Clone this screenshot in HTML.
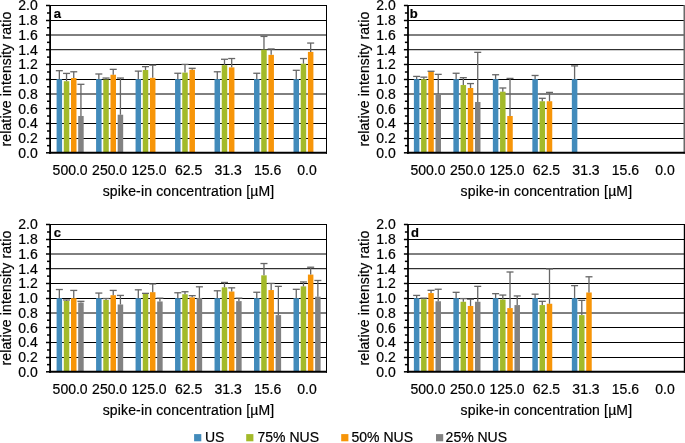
<!DOCTYPE html>
<html><head><meta charset="utf-8"><style>
html,body{margin:0;padding:0;background:#fff;}
body{width:685px;height:443px;overflow:hidden;}
svg{display:block;will-change:transform;}
text{font-family:"Liberation Sans", sans-serif;stroke:#000;stroke-width:0.2px;}
</style></head><body>
<svg width="685" height="443" viewBox="0 0 685 443" font-family='"Liberation Sans", sans-serif' font-size="14" fill="#000">
<rect width="685" height="443" fill="#fff"/>
<g transform="translate(0,0)">
<line x1="50.1" x2="326.5" y1="138.50" y2="138.50" stroke="#000" stroke-width="1"/>
<line x1="50.1" x2="326.5" y1="123.50" y2="123.50" stroke="#000" stroke-width="1"/>
<line x1="50.1" x2="326.5" y1="108.50" y2="108.50" stroke="#000" stroke-width="1"/>
<line x1="50.1" x2="326.5" y1="94.00" y2="94.00" stroke="#000" stroke-width="1"/>
<line x1="50.1" x2="326.5" y1="79.50" y2="79.50" stroke="#000" stroke-width="1"/>
<line x1="50.1" x2="326.5" y1="64.50" y2="64.50" stroke="#000" stroke-width="1"/>
<line x1="50.1" x2="326.5" y1="49.70" y2="49.70" stroke="#000" stroke-width="1"/>
<line x1="50.1" x2="326.5" y1="35.00" y2="35.00" stroke="#000" stroke-width="1"/>
<line x1="50.1" x2="326.5" y1="20.50" y2="20.50" stroke="#000" stroke-width="1"/>
<line x1="50.1" x2="326.5" y1="5.50" y2="5.50" stroke="#000" stroke-width="1"/>
<line x1="326.5" x2="326.5" y1="5.0" y2="153.8" stroke="#000" stroke-width="1.0"/>
<rect x="56.59" y="79.15" width="5.5" height="73.65" fill="#428bbb"/>
<rect x="63.79" y="81.21" width="5.5" height="71.59" fill="#a3ba2a"/>
<rect x="70.99" y="78.05" width="5.5" height="74.75" fill="#f79508"/>
<rect x="78.19" y="115.98" width="5.5" height="36.83" fill="#828282"/>
<rect x="96.08" y="79.15" width="5.5" height="73.65" fill="#428bbb"/>
<rect x="103.28" y="79.52" width="5.5" height="73.28" fill="#a3ba2a"/>
<rect x="110.48" y="74.73" width="5.5" height="78.07" fill="#f79508"/>
<rect x="117.68" y="114.72" width="5.5" height="38.08" fill="#828282"/>
<rect x="135.56" y="79.15" width="5.5" height="73.65" fill="#428bbb"/>
<rect x="142.76" y="70.02" width="5.5" height="82.78" fill="#a3ba2a"/>
<rect x="149.96" y="77.82" width="5.5" height="74.98" fill="#f79508"/>
<rect x="175.05" y="79.15" width="5.5" height="73.65" fill="#428bbb"/>
<rect x="182.25" y="72.60" width="5.5" height="80.20" fill="#a3ba2a"/>
<rect x="189.45" y="69.72" width="5.5" height="83.08" fill="#f79508"/>
<rect x="214.54" y="79.15" width="5.5" height="73.65" fill="#428bbb"/>
<rect x="221.74" y="65.16" width="5.5" height="87.64" fill="#a3ba2a"/>
<rect x="228.94" y="67.37" width="5.5" height="85.43" fill="#f79508"/>
<rect x="254.02" y="79.15" width="5.5" height="73.65" fill="#428bbb"/>
<rect x="261.22" y="49.69" width="5.5" height="103.11" fill="#a3ba2a"/>
<rect x="268.42" y="54.85" width="5.5" height="97.95" fill="#f79508"/>
<rect x="293.51" y="79.15" width="5.5" height="73.65" fill="#428bbb"/>
<rect x="300.71" y="63.68" width="5.5" height="89.12" fill="#a3ba2a"/>
<rect x="307.91" y="51.90" width="5.5" height="100.90" fill="#f79508"/>
<line x1="59.34" x2="59.34" y1="79.15" y2="70.68" stroke="#666666" stroke-width="1.3"/>
<line x1="55.84" x2="62.84" y1="70.68" y2="70.68" stroke="#666666" stroke-width="1.3"/>
<line x1="66.54" x2="66.54" y1="81.21" y2="73.41" stroke="#666666" stroke-width="1.3"/>
<line x1="63.04" x2="70.04" y1="73.41" y2="73.41" stroke="#666666" stroke-width="1.3"/>
<line x1="73.74" x2="73.74" y1="78.05" y2="71.78" stroke="#666666" stroke-width="1.3"/>
<line x1="70.24" x2="77.24" y1="71.78" y2="71.78" stroke="#666666" stroke-width="1.3"/>
<line x1="80.94" x2="80.94" y1="115.98" y2="84.31" stroke="#666666" stroke-width="1.3"/>
<line x1="77.44" x2="84.44" y1="84.31" y2="84.31" stroke="#666666" stroke-width="1.3"/>
<line x1="98.83" x2="98.83" y1="79.15" y2="73.99" stroke="#666666" stroke-width="1.3"/>
<line x1="95.33" x2="102.33" y1="73.99" y2="73.99" stroke="#666666" stroke-width="1.3"/>
<line x1="106.03" x2="106.03" y1="79.52" y2="78.05" stroke="#666666" stroke-width="1.3"/>
<line x1="102.53" x2="109.53" y1="78.05" y2="78.05" stroke="#666666" stroke-width="1.3"/>
<line x1="113.23" x2="113.23" y1="74.73" y2="69.35" stroke="#666666" stroke-width="1.3"/>
<line x1="109.73" x2="116.73" y1="69.35" y2="69.35" stroke="#666666" stroke-width="1.3"/>
<line x1="120.43" x2="120.43" y1="114.72" y2="78.05" stroke="#666666" stroke-width="1.3"/>
<line x1="116.93" x2="123.93" y1="78.05" y2="78.05" stroke="#666666" stroke-width="1.3"/>
<line x1="138.31" x2="138.31" y1="79.15" y2="71.12" stroke="#666666" stroke-width="1.3"/>
<line x1="134.81" x2="141.81" y1="71.12" y2="71.12" stroke="#666666" stroke-width="1.3"/>
<line x1="145.51" x2="145.51" y1="70.02" y2="66.63" stroke="#666666" stroke-width="1.3"/>
<line x1="142.01" x2="149.01" y1="66.63" y2="66.63" stroke="#666666" stroke-width="1.3"/>
<line x1="152.71" x2="152.71" y1="77.82" y2="65.16" stroke="#666666" stroke-width="1.3"/>
<line x1="149.21" x2="156.21" y1="65.16" y2="65.16" stroke="#666666" stroke-width="1.3"/>
<line x1="177.80" x2="177.80" y1="79.15" y2="73.26" stroke="#666666" stroke-width="1.3"/>
<line x1="174.30" x2="181.30" y1="73.26" y2="73.26" stroke="#666666" stroke-width="1.3"/>
<line x1="185.00" x2="185.00" y1="72.60" y2="64.42" stroke="#666666" stroke-width="1.3"/>
<line x1="181.50" x2="188.50" y1="64.42" y2="64.42" stroke="#666666" stroke-width="1.3"/>
<line x1="192.20" x2="192.20" y1="69.72" y2="68.32" stroke="#666666" stroke-width="1.3"/>
<line x1="188.70" x2="195.70" y1="68.32" y2="68.32" stroke="#666666" stroke-width="1.3"/>
<line x1="217.29" x2="217.29" y1="79.15" y2="71.78" stroke="#666666" stroke-width="1.3"/>
<line x1="213.79" x2="220.79" y1="71.78" y2="71.78" stroke="#666666" stroke-width="1.3"/>
<line x1="224.49" x2="224.49" y1="65.16" y2="59.26" stroke="#666666" stroke-width="1.3"/>
<line x1="220.99" x2="227.99" y1="59.26" y2="59.26" stroke="#666666" stroke-width="1.3"/>
<line x1="231.69" x2="231.69" y1="67.37" y2="58.53" stroke="#666666" stroke-width="1.3"/>
<line x1="228.19" x2="235.19" y1="58.53" y2="58.53" stroke="#666666" stroke-width="1.3"/>
<line x1="256.77" x2="256.77" y1="79.15" y2="73.26" stroke="#666666" stroke-width="1.3"/>
<line x1="253.27" x2="260.27" y1="73.26" y2="73.26" stroke="#666666" stroke-width="1.3"/>
<line x1="263.97" x2="263.97" y1="49.69" y2="36.43" stroke="#666666" stroke-width="1.3"/>
<line x1="260.47" x2="267.47" y1="36.43" y2="36.43" stroke="#666666" stroke-width="1.3"/>
<line x1="271.17" x2="271.17" y1="54.85" y2="48.95" stroke="#666666" stroke-width="1.3"/>
<line x1="267.67" x2="274.67" y1="48.95" y2="48.95" stroke="#666666" stroke-width="1.3"/>
<line x1="296.26" x2="296.26" y1="79.15" y2="70.31" stroke="#666666" stroke-width="1.3"/>
<line x1="292.76" x2="299.76" y1="70.31" y2="70.31" stroke="#666666" stroke-width="1.3"/>
<line x1="303.46" x2="303.46" y1="63.68" y2="58.53" stroke="#666666" stroke-width="1.3"/>
<line x1="299.96" x2="306.96" y1="58.53" y2="58.53" stroke="#666666" stroke-width="1.3"/>
<line x1="310.66" x2="310.66" y1="51.90" y2="43.06" stroke="#666666" stroke-width="1.3"/>
<line x1="307.16" x2="314.16" y1="43.06" y2="43.06" stroke="#666666" stroke-width="1.3"/>
<line x1="50.1" x2="50.1" y1="4.9" y2="153.8" stroke="#000" stroke-width="1.8"/>
<line x1="49.2" x2="327.0" y1="152.8" y2="152.8" stroke="#000" stroke-width="2"/>
<line x1="46" x2="50.1" y1="152.80" y2="152.80" stroke="#000" stroke-width="1.5"/>
<line x1="47" x2="50.1" y1="145.65" y2="145.65" stroke="#000" stroke-width="1.5"/>
<line x1="46" x2="50.1" y1="138.50" y2="138.50" stroke="#000" stroke-width="1.5"/>
<line x1="47" x2="50.1" y1="131.00" y2="131.00" stroke="#000" stroke-width="1.5"/>
<line x1="46" x2="50.1" y1="123.50" y2="123.50" stroke="#000" stroke-width="1.5"/>
<line x1="47" x2="50.1" y1="116.00" y2="116.00" stroke="#000" stroke-width="1.5"/>
<line x1="46" x2="50.1" y1="108.50" y2="108.50" stroke="#000" stroke-width="1.5"/>
<line x1="47" x2="50.1" y1="101.25" y2="101.25" stroke="#000" stroke-width="1.5"/>
<line x1="46" x2="50.1" y1="94.00" y2="94.00" stroke="#000" stroke-width="1.5"/>
<line x1="47" x2="50.1" y1="86.75" y2="86.75" stroke="#000" stroke-width="1.5"/>
<line x1="46" x2="50.1" y1="79.50" y2="79.50" stroke="#000" stroke-width="1.5"/>
<line x1="47" x2="50.1" y1="72.00" y2="72.00" stroke="#000" stroke-width="1.5"/>
<line x1="46" x2="50.1" y1="64.50" y2="64.50" stroke="#000" stroke-width="1.5"/>
<line x1="47" x2="50.1" y1="57.10" y2="57.10" stroke="#000" stroke-width="1.5"/>
<line x1="46" x2="50.1" y1="49.70" y2="49.70" stroke="#000" stroke-width="1.5"/>
<line x1="47" x2="50.1" y1="42.35" y2="42.35" stroke="#000" stroke-width="1.5"/>
<line x1="46" x2="50.1" y1="35.00" y2="35.00" stroke="#000" stroke-width="1.5"/>
<line x1="47" x2="50.1" y1="27.75" y2="27.75" stroke="#000" stroke-width="1.5"/>
<line x1="46" x2="50.1" y1="20.50" y2="20.50" stroke="#000" stroke-width="1.5"/>
<line x1="47" x2="50.1" y1="13.00" y2="13.00" stroke="#000" stroke-width="1.5"/>
<line x1="46" x2="50.1" y1="5.50" y2="5.50" stroke="#000" stroke-width="1.5"/>
<text x="37.8" y="157.70" text-anchor="end">0.0</text>
<text x="37.8" y="142.97" text-anchor="end">0.2</text>
<text x="37.8" y="128.24" text-anchor="end">0.4</text>
<text x="37.8" y="113.51" text-anchor="end">0.6</text>
<text x="37.8" y="98.78" text-anchor="end">0.8</text>
<text x="37.8" y="84.05" text-anchor="end">1.0</text>
<text x="37.8" y="69.32" text-anchor="end">1.2</text>
<text x="37.8" y="54.59" text-anchor="end">1.4</text>
<text x="37.8" y="39.86" text-anchor="end">1.6</text>
<text x="37.8" y="25.13" text-anchor="end">1.8</text>
<text x="37.8" y="10.40" text-anchor="end">2.0</text>
<text x="70.14" y="174.6" text-anchor="middle">500.0</text>
<text x="109.63" y="174.6" text-anchor="middle">250.0</text>
<text x="149.11" y="174.6" text-anchor="middle">125.0</text>
<text x="188.60" y="174.6" text-anchor="middle">62.5</text>
<text x="228.09" y="174.6" text-anchor="middle">31.3</text>
<text x="267.57" y="174.6" text-anchor="middle">15.6</text>
<text x="307.06" y="174.6" text-anchor="middle">0.0</text>
<text x="188.5" y="196.0" text-anchor="middle" letter-spacing="0.15">spike-in concentration [µM]</text>
<text transform="translate(10.7,79.1) rotate(-90)" x="0" y="0" text-anchor="middle" letter-spacing="0.14">relative intensity ratio</text>
<text x="53.8" y="17.9" font-weight="bold" font-size="13">a</text>
</g>
<g transform="translate(357.9,0)">
<line x1="50.1" x2="326.5" y1="138.50" y2="138.50" stroke="#000" stroke-width="1"/>
<line x1="50.1" x2="326.5" y1="123.50" y2="123.50" stroke="#000" stroke-width="1"/>
<line x1="50.1" x2="326.5" y1="108.50" y2="108.50" stroke="#000" stroke-width="1"/>
<line x1="50.1" x2="326.5" y1="94.00" y2="94.00" stroke="#000" stroke-width="1"/>
<line x1="50.1" x2="326.5" y1="79.50" y2="79.50" stroke="#000" stroke-width="1"/>
<line x1="50.1" x2="326.5" y1="64.50" y2="64.50" stroke="#000" stroke-width="1"/>
<line x1="50.1" x2="326.5" y1="49.70" y2="49.70" stroke="#000" stroke-width="1"/>
<line x1="50.1" x2="326.5" y1="35.00" y2="35.00" stroke="#000" stroke-width="1"/>
<line x1="50.1" x2="326.5" y1="20.50" y2="20.50" stroke="#000" stroke-width="1"/>
<line x1="50.1" x2="326.5" y1="5.50" y2="5.50" stroke="#000" stroke-width="1"/>
<line x1="326.6" x2="326.6" y1="5.0" y2="153.8" stroke="#6a6a6a" stroke-width="2.0"/>
<rect x="55.99" y="79.15" width="5.5" height="73.65" fill="#428bbb"/>
<rect x="63.19" y="79.15" width="5.5" height="73.65" fill="#a3ba2a"/>
<rect x="70.39" y="71.42" width="5.5" height="81.38" fill="#f79508"/>
<rect x="77.59" y="94.10" width="5.5" height="58.70" fill="#828282"/>
<rect x="95.48" y="79.15" width="5.5" height="73.65" fill="#428bbb"/>
<rect x="102.68" y="85.04" width="5.5" height="67.76" fill="#a3ba2a"/>
<rect x="109.88" y="87.99" width="5.5" height="64.81" fill="#f79508"/>
<rect x="117.08" y="101.98" width="5.5" height="50.82" fill="#828282"/>
<rect x="134.96" y="79.15" width="5.5" height="73.65" fill="#428bbb"/>
<rect x="142.16" y="91.67" width="5.5" height="61.13" fill="#a3ba2a"/>
<rect x="149.36" y="115.98" width="5.5" height="36.83" fill="#f79508"/>
<rect x="174.45" y="79.15" width="5.5" height="73.65" fill="#428bbb"/>
<rect x="181.65" y="101.25" width="5.5" height="51.56" fill="#a3ba2a"/>
<rect x="188.85" y="101.25" width="5.5" height="51.56" fill="#f79508"/>
<rect x="213.94" y="79.15" width="5.5" height="73.65" fill="#428bbb"/>
<line x1="58.74" x2="58.74" y1="79.15" y2="76.42" stroke="#666666" stroke-width="1.3"/>
<line x1="55.24" x2="62.24" y1="76.42" y2="76.42" stroke="#666666" stroke-width="1.3"/>
<line x1="65.94" x2="65.94" y1="79.15" y2="77.16" stroke="#666666" stroke-width="1.3"/>
<line x1="62.44" x2="69.44" y1="77.16" y2="77.16" stroke="#666666" stroke-width="1.3"/>
<line x1="73.14" x2="73.14" y1="71.42" y2="71.27" stroke="#666666" stroke-width="1.3"/>
<line x1="69.64" x2="76.64" y1="71.27" y2="71.27" stroke="#666666" stroke-width="1.3"/>
<line x1="80.34" x2="80.34" y1="94.10" y2="74.36" stroke="#666666" stroke-width="1.3"/>
<line x1="76.84" x2="83.84" y1="74.36" y2="74.36" stroke="#666666" stroke-width="1.3"/>
<line x1="98.23" x2="98.23" y1="79.15" y2="73.26" stroke="#666666" stroke-width="1.3"/>
<line x1="94.73" x2="101.73" y1="73.26" y2="73.26" stroke="#666666" stroke-width="1.3"/>
<line x1="105.43" x2="105.43" y1="85.04" y2="77.68" stroke="#666666" stroke-width="1.3"/>
<line x1="101.93" x2="108.93" y1="77.68" y2="77.68" stroke="#666666" stroke-width="1.3"/>
<line x1="112.63" x2="112.63" y1="87.99" y2="83.57" stroke="#666666" stroke-width="1.3"/>
<line x1="109.13" x2="116.13" y1="83.57" y2="83.57" stroke="#666666" stroke-width="1.3"/>
<line x1="119.83" x2="119.83" y1="101.98" y2="52.34" stroke="#666666" stroke-width="1.3"/>
<line x1="116.33" x2="123.33" y1="52.34" y2="52.34" stroke="#666666" stroke-width="1.3"/>
<line x1="137.71" x2="137.71" y1="79.15" y2="74.73" stroke="#666666" stroke-width="1.3"/>
<line x1="134.21" x2="141.21" y1="74.73" y2="74.73" stroke="#666666" stroke-width="1.3"/>
<line x1="144.91" x2="144.91" y1="91.67" y2="87.99" stroke="#666666" stroke-width="1.3"/>
<line x1="141.41" x2="148.41" y1="87.99" y2="87.99" stroke="#666666" stroke-width="1.3"/>
<line x1="152.11" x2="152.11" y1="115.98" y2="78.41" stroke="#666666" stroke-width="1.3"/>
<line x1="148.61" x2="155.61" y1="78.41" y2="78.41" stroke="#666666" stroke-width="1.3"/>
<line x1="177.20" x2="177.20" y1="79.15" y2="75.47" stroke="#666666" stroke-width="1.3"/>
<line x1="173.70" x2="180.70" y1="75.47" y2="75.47" stroke="#666666" stroke-width="1.3"/>
<line x1="184.40" x2="184.40" y1="101.25" y2="98.30" stroke="#666666" stroke-width="1.3"/>
<line x1="180.90" x2="187.90" y1="98.30" y2="98.30" stroke="#666666" stroke-width="1.3"/>
<line x1="191.60" x2="191.60" y1="101.25" y2="92.41" stroke="#666666" stroke-width="1.3"/>
<line x1="188.10" x2="195.10" y1="92.41" y2="92.41" stroke="#666666" stroke-width="1.3"/>
<line x1="216.69" x2="216.69" y1="79.15" y2="65.89" stroke="#666666" stroke-width="1.3"/>
<line x1="213.19" x2="220.19" y1="65.89" y2="65.89" stroke="#666666" stroke-width="1.3"/>
<line x1="50.1" x2="50.1" y1="4.9" y2="153.8" stroke="#000" stroke-width="1.8"/>
<line x1="49.2" x2="327.0" y1="152.8" y2="152.8" stroke="#000" stroke-width="2"/>
<line x1="46" x2="50.1" y1="152.80" y2="152.80" stroke="#000" stroke-width="1.5"/>
<line x1="47" x2="50.1" y1="145.65" y2="145.65" stroke="#000" stroke-width="1.5"/>
<line x1="46" x2="50.1" y1="138.50" y2="138.50" stroke="#000" stroke-width="1.5"/>
<line x1="47" x2="50.1" y1="131.00" y2="131.00" stroke="#000" stroke-width="1.5"/>
<line x1="46" x2="50.1" y1="123.50" y2="123.50" stroke="#000" stroke-width="1.5"/>
<line x1="47" x2="50.1" y1="116.00" y2="116.00" stroke="#000" stroke-width="1.5"/>
<line x1="46" x2="50.1" y1="108.50" y2="108.50" stroke="#000" stroke-width="1.5"/>
<line x1="47" x2="50.1" y1="101.25" y2="101.25" stroke="#000" stroke-width="1.5"/>
<line x1="46" x2="50.1" y1="94.00" y2="94.00" stroke="#000" stroke-width="1.5"/>
<line x1="47" x2="50.1" y1="86.75" y2="86.75" stroke="#000" stroke-width="1.5"/>
<line x1="46" x2="50.1" y1="79.50" y2="79.50" stroke="#000" stroke-width="1.5"/>
<line x1="47" x2="50.1" y1="72.00" y2="72.00" stroke="#000" stroke-width="1.5"/>
<line x1="46" x2="50.1" y1="64.50" y2="64.50" stroke="#000" stroke-width="1.5"/>
<line x1="47" x2="50.1" y1="57.10" y2="57.10" stroke="#000" stroke-width="1.5"/>
<line x1="46" x2="50.1" y1="49.70" y2="49.70" stroke="#000" stroke-width="1.5"/>
<line x1="47" x2="50.1" y1="42.35" y2="42.35" stroke="#000" stroke-width="1.5"/>
<line x1="46" x2="50.1" y1="35.00" y2="35.00" stroke="#000" stroke-width="1.5"/>
<line x1="47" x2="50.1" y1="27.75" y2="27.75" stroke="#000" stroke-width="1.5"/>
<line x1="46" x2="50.1" y1="20.50" y2="20.50" stroke="#000" stroke-width="1.5"/>
<line x1="47" x2="50.1" y1="13.00" y2="13.00" stroke="#000" stroke-width="1.5"/>
<line x1="46" x2="50.1" y1="5.50" y2="5.50" stroke="#000" stroke-width="1.5"/>
<text x="37.8" y="157.70" text-anchor="end">0.0</text>
<text x="37.8" y="142.97" text-anchor="end">0.2</text>
<text x="37.8" y="128.24" text-anchor="end">0.4</text>
<text x="37.8" y="113.51" text-anchor="end">0.6</text>
<text x="37.8" y="98.78" text-anchor="end">0.8</text>
<text x="37.8" y="84.05" text-anchor="end">1.0</text>
<text x="37.8" y="69.32" text-anchor="end">1.2</text>
<text x="37.8" y="54.59" text-anchor="end">1.4</text>
<text x="37.8" y="39.86" text-anchor="end">1.6</text>
<text x="37.8" y="25.13" text-anchor="end">1.8</text>
<text x="37.8" y="10.40" text-anchor="end">2.0</text>
<text x="70.14" y="174.6" text-anchor="middle">500.0</text>
<text x="109.63" y="174.6" text-anchor="middle">250.0</text>
<text x="149.11" y="174.6" text-anchor="middle">125.0</text>
<text x="188.60" y="174.6" text-anchor="middle">62.5</text>
<text x="228.09" y="174.6" text-anchor="middle">31.3</text>
<text x="267.57" y="174.6" text-anchor="middle">15.6</text>
<text x="307.06" y="174.6" text-anchor="middle">0.0</text>
<text x="188.5" y="196.0" text-anchor="middle" letter-spacing="0.15">spike-in concentration [µM]</text>
<text transform="translate(10.7,79.1) rotate(-90)" x="0" y="0" text-anchor="middle" letter-spacing="0.14">relative intensity ratio</text>
<text x="51.9" y="17.9" font-weight="bold" font-size="13">b</text>
</g>
<g transform="translate(0,219)">
<line x1="50.1" x2="326.5" y1="138.50" y2="138.50" stroke="#000" stroke-width="1"/>
<line x1="50.1" x2="326.5" y1="123.50" y2="123.50" stroke="#000" stroke-width="1"/>
<line x1="50.1" x2="326.5" y1="108.50" y2="108.50" stroke="#000" stroke-width="1"/>
<line x1="50.1" x2="326.5" y1="94.00" y2="94.00" stroke="#000" stroke-width="1"/>
<line x1="50.1" x2="326.5" y1="79.50" y2="79.50" stroke="#000" stroke-width="1"/>
<line x1="50.1" x2="326.5" y1="64.50" y2="64.50" stroke="#000" stroke-width="1"/>
<line x1="50.1" x2="326.5" y1="49.70" y2="49.70" stroke="#000" stroke-width="1"/>
<line x1="50.1" x2="326.5" y1="35.00" y2="35.00" stroke="#000" stroke-width="1"/>
<line x1="50.1" x2="326.5" y1="20.50" y2="20.50" stroke="#000" stroke-width="1"/>
<line x1="50.1" x2="326.5" y1="5.50" y2="5.50" stroke="#000" stroke-width="1"/>
<line x1="326.5" x2="326.5" y1="5.0" y2="153.8" stroke="#000" stroke-width="1.0"/>
<rect x="56.59" y="79.15" width="5.5" height="73.65" fill="#428bbb"/>
<rect x="63.79" y="81.95" width="5.5" height="70.85" fill="#a3ba2a"/>
<rect x="70.99" y="79.15" width="5.5" height="73.65" fill="#f79508"/>
<rect x="78.19" y="83.57" width="5.5" height="69.23" fill="#828282"/>
<rect x="96.08" y="79.15" width="5.5" height="73.65" fill="#428bbb"/>
<rect x="103.28" y="80.99" width="5.5" height="71.81" fill="#a3ba2a"/>
<rect x="110.48" y="76.20" width="5.5" height="76.60" fill="#f79508"/>
<rect x="117.68" y="85.48" width="5.5" height="67.32" fill="#828282"/>
<rect x="135.56" y="79.15" width="5.5" height="73.65" fill="#428bbb"/>
<rect x="142.76" y="74.88" width="5.5" height="77.92" fill="#a3ba2a"/>
<rect x="149.96" y="73.18" width="5.5" height="79.62" fill="#f79508"/>
<rect x="157.16" y="82.46" width="5.5" height="70.34" fill="#828282"/>
<rect x="175.05" y="79.15" width="5.5" height="73.65" fill="#428bbb"/>
<rect x="182.25" y="75.25" width="5.5" height="77.55" fill="#a3ba2a"/>
<rect x="189.45" y="78.34" width="5.5" height="74.46" fill="#f79508"/>
<rect x="196.65" y="78.93" width="5.5" height="73.87" fill="#828282"/>
<rect x="214.54" y="79.15" width="5.5" height="73.65" fill="#428bbb"/>
<rect x="221.74" y="68.32" width="5.5" height="84.48" fill="#a3ba2a"/>
<rect x="228.94" y="72.52" width="5.5" height="80.28" fill="#f79508"/>
<rect x="236.14" y="82.10" width="5.5" height="70.70" fill="#828282"/>
<rect x="254.02" y="79.15" width="5.5" height="73.65" fill="#428bbb"/>
<rect x="261.22" y="56.32" width="5.5" height="96.48" fill="#a3ba2a"/>
<rect x="268.42" y="71.05" width="5.5" height="81.75" fill="#f79508"/>
<rect x="275.62" y="96.09" width="5.5" height="56.71" fill="#828282"/>
<rect x="293.51" y="79.15" width="5.5" height="73.65" fill="#428bbb"/>
<rect x="300.71" y="67.37" width="5.5" height="85.43" fill="#a3ba2a"/>
<rect x="307.91" y="55.58" width="5.5" height="97.22" fill="#f79508"/>
<rect x="315.11" y="77.68" width="5.5" height="75.12" fill="#828282"/>
<line x1="59.34" x2="59.34" y1="79.15" y2="70.53" stroke="#666666" stroke-width="1.3"/>
<line x1="55.84" x2="62.84" y1="70.53" y2="70.53" stroke="#666666" stroke-width="1.3"/>
<line x1="66.54" x2="66.54" y1="81.95" y2="80.99" stroke="#666666" stroke-width="1.3"/>
<line x1="63.04" x2="70.04" y1="80.99" y2="80.99" stroke="#666666" stroke-width="1.3"/>
<line x1="73.74" x2="73.74" y1="79.15" y2="71.42" stroke="#666666" stroke-width="1.3"/>
<line x1="70.24" x2="77.24" y1="71.42" y2="71.42" stroke="#666666" stroke-width="1.3"/>
<line x1="80.94" x2="80.94" y1="83.57" y2="82.32" stroke="#666666" stroke-width="1.3"/>
<line x1="77.44" x2="84.44" y1="82.32" y2="82.32" stroke="#666666" stroke-width="1.3"/>
<line x1="98.83" x2="98.83" y1="79.15" y2="74.07" stroke="#666666" stroke-width="1.3"/>
<line x1="95.33" x2="102.33" y1="74.07" y2="74.07" stroke="#666666" stroke-width="1.3"/>
<line x1="106.03" x2="106.03" y1="80.99" y2="79.52" stroke="#666666" stroke-width="1.3"/>
<line x1="102.53" x2="109.53" y1="79.52" y2="79.52" stroke="#666666" stroke-width="1.3"/>
<line x1="113.23" x2="113.23" y1="76.20" y2="71.42" stroke="#666666" stroke-width="1.3"/>
<line x1="109.73" x2="116.73" y1="71.42" y2="71.42" stroke="#666666" stroke-width="1.3"/>
<line x1="120.43" x2="120.43" y1="85.48" y2="76.42" stroke="#666666" stroke-width="1.3"/>
<line x1="116.93" x2="123.93" y1="76.42" y2="76.42" stroke="#666666" stroke-width="1.3"/>
<line x1="138.31" x2="138.31" y1="79.15" y2="70.83" stroke="#666666" stroke-width="1.3"/>
<line x1="134.81" x2="141.81" y1="70.83" y2="70.83" stroke="#666666" stroke-width="1.3"/>
<line x1="145.51" x2="145.51" y1="74.88" y2="74.36" stroke="#666666" stroke-width="1.3"/>
<line x1="142.01" x2="149.01" y1="74.36" y2="74.36" stroke="#666666" stroke-width="1.3"/>
<line x1="152.71" x2="152.71" y1="73.18" y2="64.94" stroke="#666666" stroke-width="1.3"/>
<line x1="149.21" x2="156.21" y1="64.94" y2="64.94" stroke="#666666" stroke-width="1.3"/>
<line x1="159.91" x2="159.91" y1="82.46" y2="79.15" stroke="#666666" stroke-width="1.3"/>
<line x1="156.41" x2="163.41" y1="79.15" y2="79.15" stroke="#666666" stroke-width="1.3"/>
<line x1="177.80" x2="177.80" y1="79.15" y2="73.77" stroke="#666666" stroke-width="1.3"/>
<line x1="174.30" x2="181.30" y1="73.77" y2="73.77" stroke="#666666" stroke-width="1.3"/>
<line x1="185.00" x2="185.00" y1="75.25" y2="72.74" stroke="#666666" stroke-width="1.3"/>
<line x1="181.50" x2="188.50" y1="72.74" y2="72.74" stroke="#666666" stroke-width="1.3"/>
<line x1="192.20" x2="192.20" y1="78.34" y2="76.65" stroke="#666666" stroke-width="1.3"/>
<line x1="188.70" x2="195.70" y1="76.65" y2="76.65" stroke="#666666" stroke-width="1.3"/>
<line x1="199.40" x2="199.40" y1="78.93" y2="67.81" stroke="#666666" stroke-width="1.3"/>
<line x1="195.90" x2="202.90" y1="67.81" y2="67.81" stroke="#666666" stroke-width="1.3"/>
<line x1="217.29" x2="217.29" y1="79.15" y2="71.78" stroke="#666666" stroke-width="1.3"/>
<line x1="213.79" x2="220.79" y1="71.78" y2="71.78" stroke="#666666" stroke-width="1.3"/>
<line x1="224.49" x2="224.49" y1="68.32" y2="63.46" stroke="#666666" stroke-width="1.3"/>
<line x1="220.99" x2="227.99" y1="63.46" y2="63.46" stroke="#666666" stroke-width="1.3"/>
<line x1="231.69" x2="231.69" y1="72.52" y2="68.84" stroke="#666666" stroke-width="1.3"/>
<line x1="228.19" x2="235.19" y1="68.84" y2="68.84" stroke="#666666" stroke-width="1.3"/>
<line x1="238.89" x2="238.89" y1="82.10" y2="79.15" stroke="#666666" stroke-width="1.3"/>
<line x1="235.39" x2="242.39" y1="79.15" y2="79.15" stroke="#666666" stroke-width="1.3"/>
<line x1="256.77" x2="256.77" y1="79.15" y2="73.26" stroke="#666666" stroke-width="1.3"/>
<line x1="253.27" x2="260.27" y1="73.26" y2="73.26" stroke="#666666" stroke-width="1.3"/>
<line x1="263.97" x2="263.97" y1="56.32" y2="44.53" stroke="#666666" stroke-width="1.3"/>
<line x1="260.47" x2="267.47" y1="44.53" y2="44.53" stroke="#666666" stroke-width="1.3"/>
<line x1="271.17" x2="271.17" y1="71.05" y2="64.42" stroke="#666666" stroke-width="1.3"/>
<line x1="267.67" x2="274.67" y1="64.42" y2="64.42" stroke="#666666" stroke-width="1.3"/>
<line x1="278.37" x2="278.37" y1="96.09" y2="67.37" stroke="#666666" stroke-width="1.3"/>
<line x1="274.87" x2="281.87" y1="67.37" y2="67.37" stroke="#666666" stroke-width="1.3"/>
<line x1="296.26" x2="296.26" y1="79.15" y2="70.31" stroke="#666666" stroke-width="1.3"/>
<line x1="292.76" x2="299.76" y1="70.31" y2="70.31" stroke="#666666" stroke-width="1.3"/>
<line x1="303.46" x2="303.46" y1="67.37" y2="62.95" stroke="#666666" stroke-width="1.3"/>
<line x1="299.96" x2="306.96" y1="62.95" y2="62.95" stroke="#666666" stroke-width="1.3"/>
<line x1="310.66" x2="310.66" y1="55.58" y2="48.22" stroke="#666666" stroke-width="1.3"/>
<line x1="307.16" x2="314.16" y1="48.22" y2="48.22" stroke="#666666" stroke-width="1.3"/>
<line x1="317.86" x2="317.86" y1="77.68" y2="61.47" stroke="#666666" stroke-width="1.3"/>
<line x1="314.36" x2="321.36" y1="61.47" y2="61.47" stroke="#666666" stroke-width="1.3"/>
<line x1="50.1" x2="50.1" y1="4.9" y2="153.8" stroke="#000" stroke-width="1.8"/>
<line x1="49.2" x2="327.0" y1="152.8" y2="152.8" stroke="#000" stroke-width="2"/>
<line x1="46" x2="50.1" y1="152.80" y2="152.80" stroke="#000" stroke-width="1.5"/>
<line x1="47" x2="50.1" y1="145.65" y2="145.65" stroke="#000" stroke-width="1.5"/>
<line x1="46" x2="50.1" y1="138.50" y2="138.50" stroke="#000" stroke-width="1.5"/>
<line x1="47" x2="50.1" y1="131.00" y2="131.00" stroke="#000" stroke-width="1.5"/>
<line x1="46" x2="50.1" y1="123.50" y2="123.50" stroke="#000" stroke-width="1.5"/>
<line x1="47" x2="50.1" y1="116.00" y2="116.00" stroke="#000" stroke-width="1.5"/>
<line x1="46" x2="50.1" y1="108.50" y2="108.50" stroke="#000" stroke-width="1.5"/>
<line x1="47" x2="50.1" y1="101.25" y2="101.25" stroke="#000" stroke-width="1.5"/>
<line x1="46" x2="50.1" y1="94.00" y2="94.00" stroke="#000" stroke-width="1.5"/>
<line x1="47" x2="50.1" y1="86.75" y2="86.75" stroke="#000" stroke-width="1.5"/>
<line x1="46" x2="50.1" y1="79.50" y2="79.50" stroke="#000" stroke-width="1.5"/>
<line x1="47" x2="50.1" y1="72.00" y2="72.00" stroke="#000" stroke-width="1.5"/>
<line x1="46" x2="50.1" y1="64.50" y2="64.50" stroke="#000" stroke-width="1.5"/>
<line x1="47" x2="50.1" y1="57.10" y2="57.10" stroke="#000" stroke-width="1.5"/>
<line x1="46" x2="50.1" y1="49.70" y2="49.70" stroke="#000" stroke-width="1.5"/>
<line x1="47" x2="50.1" y1="42.35" y2="42.35" stroke="#000" stroke-width="1.5"/>
<line x1="46" x2="50.1" y1="35.00" y2="35.00" stroke="#000" stroke-width="1.5"/>
<line x1="47" x2="50.1" y1="27.75" y2="27.75" stroke="#000" stroke-width="1.5"/>
<line x1="46" x2="50.1" y1="20.50" y2="20.50" stroke="#000" stroke-width="1.5"/>
<line x1="47" x2="50.1" y1="13.00" y2="13.00" stroke="#000" stroke-width="1.5"/>
<line x1="46" x2="50.1" y1="5.50" y2="5.50" stroke="#000" stroke-width="1.5"/>
<text x="37.8" y="157.70" text-anchor="end">0.0</text>
<text x="37.8" y="142.97" text-anchor="end">0.2</text>
<text x="37.8" y="128.24" text-anchor="end">0.4</text>
<text x="37.8" y="113.51" text-anchor="end">0.6</text>
<text x="37.8" y="98.78" text-anchor="end">0.8</text>
<text x="37.8" y="84.05" text-anchor="end">1.0</text>
<text x="37.8" y="69.32" text-anchor="end">1.2</text>
<text x="37.8" y="54.59" text-anchor="end">1.4</text>
<text x="37.8" y="39.86" text-anchor="end">1.6</text>
<text x="37.8" y="25.13" text-anchor="end">1.8</text>
<text x="37.8" y="10.40" text-anchor="end">2.0</text>
<text x="70.14" y="174.6" text-anchor="middle">500.0</text>
<text x="109.63" y="174.6" text-anchor="middle">250.0</text>
<text x="149.11" y="174.6" text-anchor="middle">125.0</text>
<text x="188.60" y="174.6" text-anchor="middle">62.5</text>
<text x="228.09" y="174.6" text-anchor="middle">31.3</text>
<text x="267.57" y="174.6" text-anchor="middle">15.6</text>
<text x="307.06" y="174.6" text-anchor="middle">0.0</text>
<text x="188.5" y="196.0" text-anchor="middle" letter-spacing="0.15">spike-in concentration [µM]</text>
<text transform="translate(10.7,79.1) rotate(-90)" x="0" y="0" text-anchor="middle" letter-spacing="0.14">relative intensity ratio</text>
<text x="53.8" y="17.9" font-weight="bold" font-size="13">c</text>
</g>
<g transform="translate(357.9,219)">
<line x1="50.1" x2="326.5" y1="138.50" y2="138.50" stroke="#000" stroke-width="1"/>
<line x1="50.1" x2="326.5" y1="123.50" y2="123.50" stroke="#000" stroke-width="1"/>
<line x1="50.1" x2="326.5" y1="108.50" y2="108.50" stroke="#000" stroke-width="1"/>
<line x1="50.1" x2="326.5" y1="94.00" y2="94.00" stroke="#000" stroke-width="1"/>
<line x1="50.1" x2="326.5" y1="79.50" y2="79.50" stroke="#000" stroke-width="1"/>
<line x1="50.1" x2="326.5" y1="64.50" y2="64.50" stroke="#000" stroke-width="1"/>
<line x1="50.1" x2="326.5" y1="49.70" y2="49.70" stroke="#000" stroke-width="1"/>
<line x1="50.1" x2="326.5" y1="35.00" y2="35.00" stroke="#000" stroke-width="1"/>
<line x1="50.1" x2="326.5" y1="20.50" y2="20.50" stroke="#000" stroke-width="1"/>
<line x1="50.1" x2="326.5" y1="5.50" y2="5.50" stroke="#000" stroke-width="1"/>
<line x1="326.6" x2="326.6" y1="5.0" y2="153.8" stroke="#000" stroke-width="1.4"/>
<rect x="55.99" y="79.15" width="5.5" height="73.65" fill="#428bbb"/>
<rect x="63.19" y="80.18" width="5.5" height="72.62" fill="#a3ba2a"/>
<rect x="70.39" y="74.07" width="5.5" height="78.73" fill="#f79508"/>
<rect x="77.59" y="82.24" width="5.5" height="70.56" fill="#828282"/>
<rect x="95.48" y="79.15" width="5.5" height="73.65" fill="#428bbb"/>
<rect x="102.68" y="82.76" width="5.5" height="70.04" fill="#a3ba2a"/>
<rect x="109.88" y="86.96" width="5.5" height="65.84" fill="#f79508"/>
<rect x="117.08" y="82.76" width="5.5" height="70.04" fill="#828282"/>
<rect x="134.96" y="79.15" width="5.5" height="73.65" fill="#428bbb"/>
<rect x="142.16" y="80.55" width="5.5" height="72.25" fill="#a3ba2a"/>
<rect x="149.36" y="89.09" width="5.5" height="63.71" fill="#f79508"/>
<rect x="156.56" y="86.07" width="5.5" height="66.73" fill="#828282"/>
<rect x="174.45" y="79.15" width="5.5" height="73.65" fill="#428bbb"/>
<rect x="181.65" y="86.07" width="5.5" height="66.73" fill="#a3ba2a"/>
<rect x="188.85" y="84.75" width="5.5" height="68.05" fill="#f79508"/>
<rect x="213.94" y="79.15" width="5.5" height="73.65" fill="#428bbb"/>
<rect x="221.14" y="96.09" width="5.5" height="56.71" fill="#a3ba2a"/>
<rect x="228.34" y="73.48" width="5.5" height="79.32" fill="#f79508"/>
<line x1="58.74" x2="58.74" y1="79.15" y2="76.42" stroke="#666666" stroke-width="1.3"/>
<line x1="55.24" x2="62.24" y1="76.42" y2="76.42" stroke="#666666" stroke-width="1.3"/>
<line x1="65.94" x2="65.94" y1="80.18" y2="79.15" stroke="#666666" stroke-width="1.3"/>
<line x1="62.44" x2="69.44" y1="79.15" y2="79.15" stroke="#666666" stroke-width="1.3"/>
<line x1="73.14" x2="73.14" y1="74.07" y2="71.34" stroke="#666666" stroke-width="1.3"/>
<line x1="69.64" x2="76.64" y1="71.34" y2="71.34" stroke="#666666" stroke-width="1.3"/>
<line x1="80.34" x2="80.34" y1="82.24" y2="70.24" stroke="#666666" stroke-width="1.3"/>
<line x1="76.84" x2="83.84" y1="70.24" y2="70.24" stroke="#666666" stroke-width="1.3"/>
<line x1="98.23" x2="98.23" y1="79.15" y2="73.33" stroke="#666666" stroke-width="1.3"/>
<line x1="94.73" x2="101.73" y1="73.33" y2="73.33" stroke="#666666" stroke-width="1.3"/>
<line x1="105.43" x2="105.43" y1="82.76" y2="79.59" stroke="#666666" stroke-width="1.3"/>
<line x1="101.93" x2="108.93" y1="79.59" y2="79.59" stroke="#666666" stroke-width="1.3"/>
<line x1="112.63" x2="112.63" y1="86.96" y2="80.18" stroke="#666666" stroke-width="1.3"/>
<line x1="109.13" x2="116.13" y1="80.18" y2="80.18" stroke="#666666" stroke-width="1.3"/>
<line x1="119.83" x2="119.83" y1="82.76" y2="67.37" stroke="#666666" stroke-width="1.3"/>
<line x1="116.33" x2="123.33" y1="67.37" y2="67.37" stroke="#666666" stroke-width="1.3"/>
<line x1="137.71" x2="137.71" y1="79.15" y2="74.66" stroke="#666666" stroke-width="1.3"/>
<line x1="134.21" x2="141.21" y1="74.66" y2="74.66" stroke="#666666" stroke-width="1.3"/>
<line x1="144.91" x2="144.91" y1="80.55" y2="76.06" stroke="#666666" stroke-width="1.3"/>
<line x1="141.41" x2="148.41" y1="76.06" y2="76.06" stroke="#666666" stroke-width="1.3"/>
<line x1="152.11" x2="152.11" y1="89.09" y2="53.00" stroke="#666666" stroke-width="1.3"/>
<line x1="148.61" x2="155.61" y1="53.00" y2="53.00" stroke="#666666" stroke-width="1.3"/>
<line x1="159.31" x2="159.31" y1="86.07" y2="76.94" stroke="#666666" stroke-width="1.3"/>
<line x1="155.81" x2="162.81" y1="76.94" y2="76.94" stroke="#666666" stroke-width="1.3"/>
<line x1="177.20" x2="177.20" y1="79.15" y2="75.17" stroke="#666666" stroke-width="1.3"/>
<line x1="173.70" x2="180.70" y1="75.17" y2="75.17" stroke="#666666" stroke-width="1.3"/>
<line x1="184.40" x2="184.40" y1="86.07" y2="82.32" stroke="#666666" stroke-width="1.3"/>
<line x1="180.90" x2="187.90" y1="82.32" y2="82.32" stroke="#666666" stroke-width="1.3"/>
<line x1="191.60" x2="191.60" y1="84.75" y2="49.91" stroke="#666666" stroke-width="1.3"/>
<line x1="188.10" x2="195.10" y1="49.91" y2="49.91" stroke="#666666" stroke-width="1.3"/>
<line x1="216.69" x2="216.69" y1="79.15" y2="66.63" stroke="#666666" stroke-width="1.3"/>
<line x1="213.19" x2="220.19" y1="66.63" y2="66.63" stroke="#666666" stroke-width="1.3"/>
<line x1="223.89" x2="223.89" y1="96.09" y2="81.36" stroke="#666666" stroke-width="1.3"/>
<line x1="220.39" x2="227.39" y1="81.36" y2="81.36" stroke="#666666" stroke-width="1.3"/>
<line x1="231.09" x2="231.09" y1="73.48" y2="57.79" stroke="#666666" stroke-width="1.3"/>
<line x1="227.59" x2="234.59" y1="57.79" y2="57.79" stroke="#666666" stroke-width="1.3"/>
<line x1="50.1" x2="50.1" y1="4.9" y2="153.8" stroke="#000" stroke-width="1.8"/>
<line x1="49.2" x2="327.0" y1="152.8" y2="152.8" stroke="#000" stroke-width="2"/>
<line x1="46" x2="50.1" y1="152.80" y2="152.80" stroke="#000" stroke-width="1.5"/>
<line x1="47" x2="50.1" y1="145.65" y2="145.65" stroke="#000" stroke-width="1.5"/>
<line x1="46" x2="50.1" y1="138.50" y2="138.50" stroke="#000" stroke-width="1.5"/>
<line x1="47" x2="50.1" y1="131.00" y2="131.00" stroke="#000" stroke-width="1.5"/>
<line x1="46" x2="50.1" y1="123.50" y2="123.50" stroke="#000" stroke-width="1.5"/>
<line x1="47" x2="50.1" y1="116.00" y2="116.00" stroke="#000" stroke-width="1.5"/>
<line x1="46" x2="50.1" y1="108.50" y2="108.50" stroke="#000" stroke-width="1.5"/>
<line x1="47" x2="50.1" y1="101.25" y2="101.25" stroke="#000" stroke-width="1.5"/>
<line x1="46" x2="50.1" y1="94.00" y2="94.00" stroke="#000" stroke-width="1.5"/>
<line x1="47" x2="50.1" y1="86.75" y2="86.75" stroke="#000" stroke-width="1.5"/>
<line x1="46" x2="50.1" y1="79.50" y2="79.50" stroke="#000" stroke-width="1.5"/>
<line x1="47" x2="50.1" y1="72.00" y2="72.00" stroke="#000" stroke-width="1.5"/>
<line x1="46" x2="50.1" y1="64.50" y2="64.50" stroke="#000" stroke-width="1.5"/>
<line x1="47" x2="50.1" y1="57.10" y2="57.10" stroke="#000" stroke-width="1.5"/>
<line x1="46" x2="50.1" y1="49.70" y2="49.70" stroke="#000" stroke-width="1.5"/>
<line x1="47" x2="50.1" y1="42.35" y2="42.35" stroke="#000" stroke-width="1.5"/>
<line x1="46" x2="50.1" y1="35.00" y2="35.00" stroke="#000" stroke-width="1.5"/>
<line x1="47" x2="50.1" y1="27.75" y2="27.75" stroke="#000" stroke-width="1.5"/>
<line x1="46" x2="50.1" y1="20.50" y2="20.50" stroke="#000" stroke-width="1.5"/>
<line x1="47" x2="50.1" y1="13.00" y2="13.00" stroke="#000" stroke-width="1.5"/>
<line x1="46" x2="50.1" y1="5.50" y2="5.50" stroke="#000" stroke-width="1.5"/>
<text x="37.8" y="157.70" text-anchor="end">0.0</text>
<text x="37.8" y="142.97" text-anchor="end">0.2</text>
<text x="37.8" y="128.24" text-anchor="end">0.4</text>
<text x="37.8" y="113.51" text-anchor="end">0.6</text>
<text x="37.8" y="98.78" text-anchor="end">0.8</text>
<text x="37.8" y="84.05" text-anchor="end">1.0</text>
<text x="37.8" y="69.32" text-anchor="end">1.2</text>
<text x="37.8" y="54.59" text-anchor="end">1.4</text>
<text x="37.8" y="39.86" text-anchor="end">1.6</text>
<text x="37.8" y="25.13" text-anchor="end">1.8</text>
<text x="37.8" y="10.40" text-anchor="end">2.0</text>
<text x="70.14" y="174.6" text-anchor="middle">500.0</text>
<text x="109.63" y="174.6" text-anchor="middle">250.0</text>
<text x="149.11" y="174.6" text-anchor="middle">125.0</text>
<text x="188.60" y="174.6" text-anchor="middle">62.5</text>
<text x="228.09" y="174.6" text-anchor="middle">31.3</text>
<text x="267.57" y="174.6" text-anchor="middle">15.6</text>
<text x="307.06" y="174.6" text-anchor="middle">0.0</text>
<text x="188.5" y="196.0" text-anchor="middle" letter-spacing="0.15">spike-in concentration [µM]</text>
<text transform="translate(10.7,79.1) rotate(-90)" x="0" y="0" text-anchor="middle" letter-spacing="0.14">relative intensity ratio</text>
<text x="53.2" y="17.9" font-weight="bold" font-size="13">d</text>
</g>
<rect x="194.1" y="434.1" width="7.2" height="7.2" fill="#428bbb"/>
<text x="205.0" y="441.6">US</text>
<rect x="246.2" y="434.1" width="7.2" height="7.2" fill="#a3ba2a"/>
<text x="257.5" y="441.6">75% NUS</text>
<rect x="341.2" y="434.1" width="7.2" height="7.2" fill="#f79508"/>
<text x="351.5" y="441.6">50% NUS</text>
<rect x="436.0" y="434.1" width="7.2" height="7.2" fill="#828282"/>
<text x="445.6" y="441.6">25% NUS</text>
</svg>
</body></html>
